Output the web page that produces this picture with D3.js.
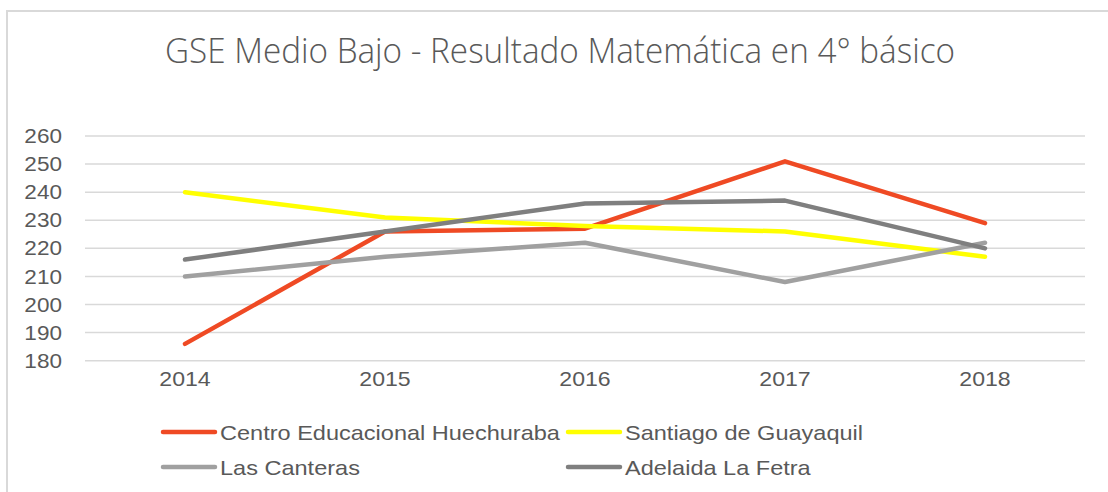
<!DOCTYPE html>
<html><head><meta charset="utf-8">
<script src="https://cdn.jsdelivr.net/npm/d3@7"></script>
<style>body{margin:0;background:#fff}svg{display:block}</style>
</head><body>
<svg id="c" width="1108" height="492"></svg>
<script>
const years = ["2014","2015","2016","2017","2018"];
const yTicks = [180,190,200,210,220,230,240,250,260];
const seriesNames = ["Centro Educacional Huechuraba","Santiago de Guayaquil","Las Canteras","Adelaida La Fetra"];
const seriesColors = ["#EF4A24","#FFFF00","#A0A0A0","#7F7F7F"];
const centro = [186,226,227,251,229];
const santiago = [240,231,228,226,217];
const canteras = [210,217,222,208,222];
const adelaida = [216,226,236,237,220];
const seriesValues = [centro, santiago, canteras, adelaida];
const title = "GSE Medio Bajo - Resultado Matemática en 4° básico";

const svg = d3.select("#c");
const stretch = 1.1;
function widen(sel, k){ sel.each(function(){ const w=this.getComputedTextLength(); d3.select(this).attr("textLength", w*(k||stretch)).attr("lengthAdjust","spacingAndGlyphs"); }); }

svg.append("rect").attr("x",7).attr("y",11).attr("width",1120).attr("height",500)
  .attr("fill","#fff").attr("stroke","#D9D9D9").attr("stroke-width",2);

const t = svg.append("text").attr("x",560).attr("y",63).attr("text-anchor","middle")
  .attr("font-family","'Open Sans', sans-serif").attr("font-weight",300).attr("font-size",34)
  .attr("fill","#595959").text(title);
t.attr("textLength",790).attr("lengthAdjust","spacingAndGlyphs");

const x = d3.scaleBand().domain(years).range([85,1085]);
const y = d3.scaleLinear().domain([180,260]).range([360.7,136]);

const grid = svg.append("g");
grid.selectAll("line").data(yTicks).join("line")
  .attr("x1",85).attr("x2",1085).attr("y1",d=>y(d)).attr("y2",d=>y(d))
  .attr("stroke","#D9D9D9").attr("stroke-width",1.5);

const yAxis = svg.append("g").attr("transform","translate(85,0)")
  .call(d3.axisLeft(y).tickValues(yTicks).tickSize(0).tickPadding(23));
yAxis.select(".domain").remove();
yAxis.selectAll("text").attr("font-family","Arial, 'Liberation Sans', sans-serif").attr("font-size",20.5).attr("fill","#595959");
widen(yAxis.selectAll("text"));

const xAxis = svg.append("g").attr("transform","translate(0,360.7)")
  .call(d3.axisBottom(x).tickSize(0).tickPadding(10));
xAxis.select(".domain").remove();
xAxis.selectAll("text").attr("font-family","Arial, 'Liberation Sans', sans-serif").attr("font-size",21).attr("fill","#595959");
widen(xAxis.selectAll("text"));

const line = d3.line().x((d,i)=>x(years[i])+x.bandwidth()/2).y(d=>y(d));
svg.append("g").selectAll("path").data(seriesValues).join("path")
  .attr("d",d=>line(d)).attr("fill","none")
  .attr("stroke",(d,i)=>seriesColors[i]).attr("stroke-width",4.5)
  .attr("stroke-linejoin","round").attr("stroke-linecap","round");

const legPos = [[163,432],[568,432],[163,467],[568,467]];
const leg = svg.append("g").selectAll("g").data(seriesNames).join("g")
  .attr("transform",(d,i)=>`translate(${legPos[i][0]},${legPos[i][1]})`);
leg.append("line").attr("x1",0).attr("x2",52).attr("y1",0).attr("y2",0)
  .attr("stroke",(d,i)=>seriesColors[i]).attr("stroke-width",4.5).attr("stroke-linecap","round");
const lt = leg.append("text").attr("x",57).attr("y",0).attr("dy","0.36em")
  .attr("font-family","Arial, 'Liberation Sans', sans-serif").attr("font-size",21).attr("fill","#595959").text(d=>d);
widen(lt, 1.12);
</script>
</body></html>
